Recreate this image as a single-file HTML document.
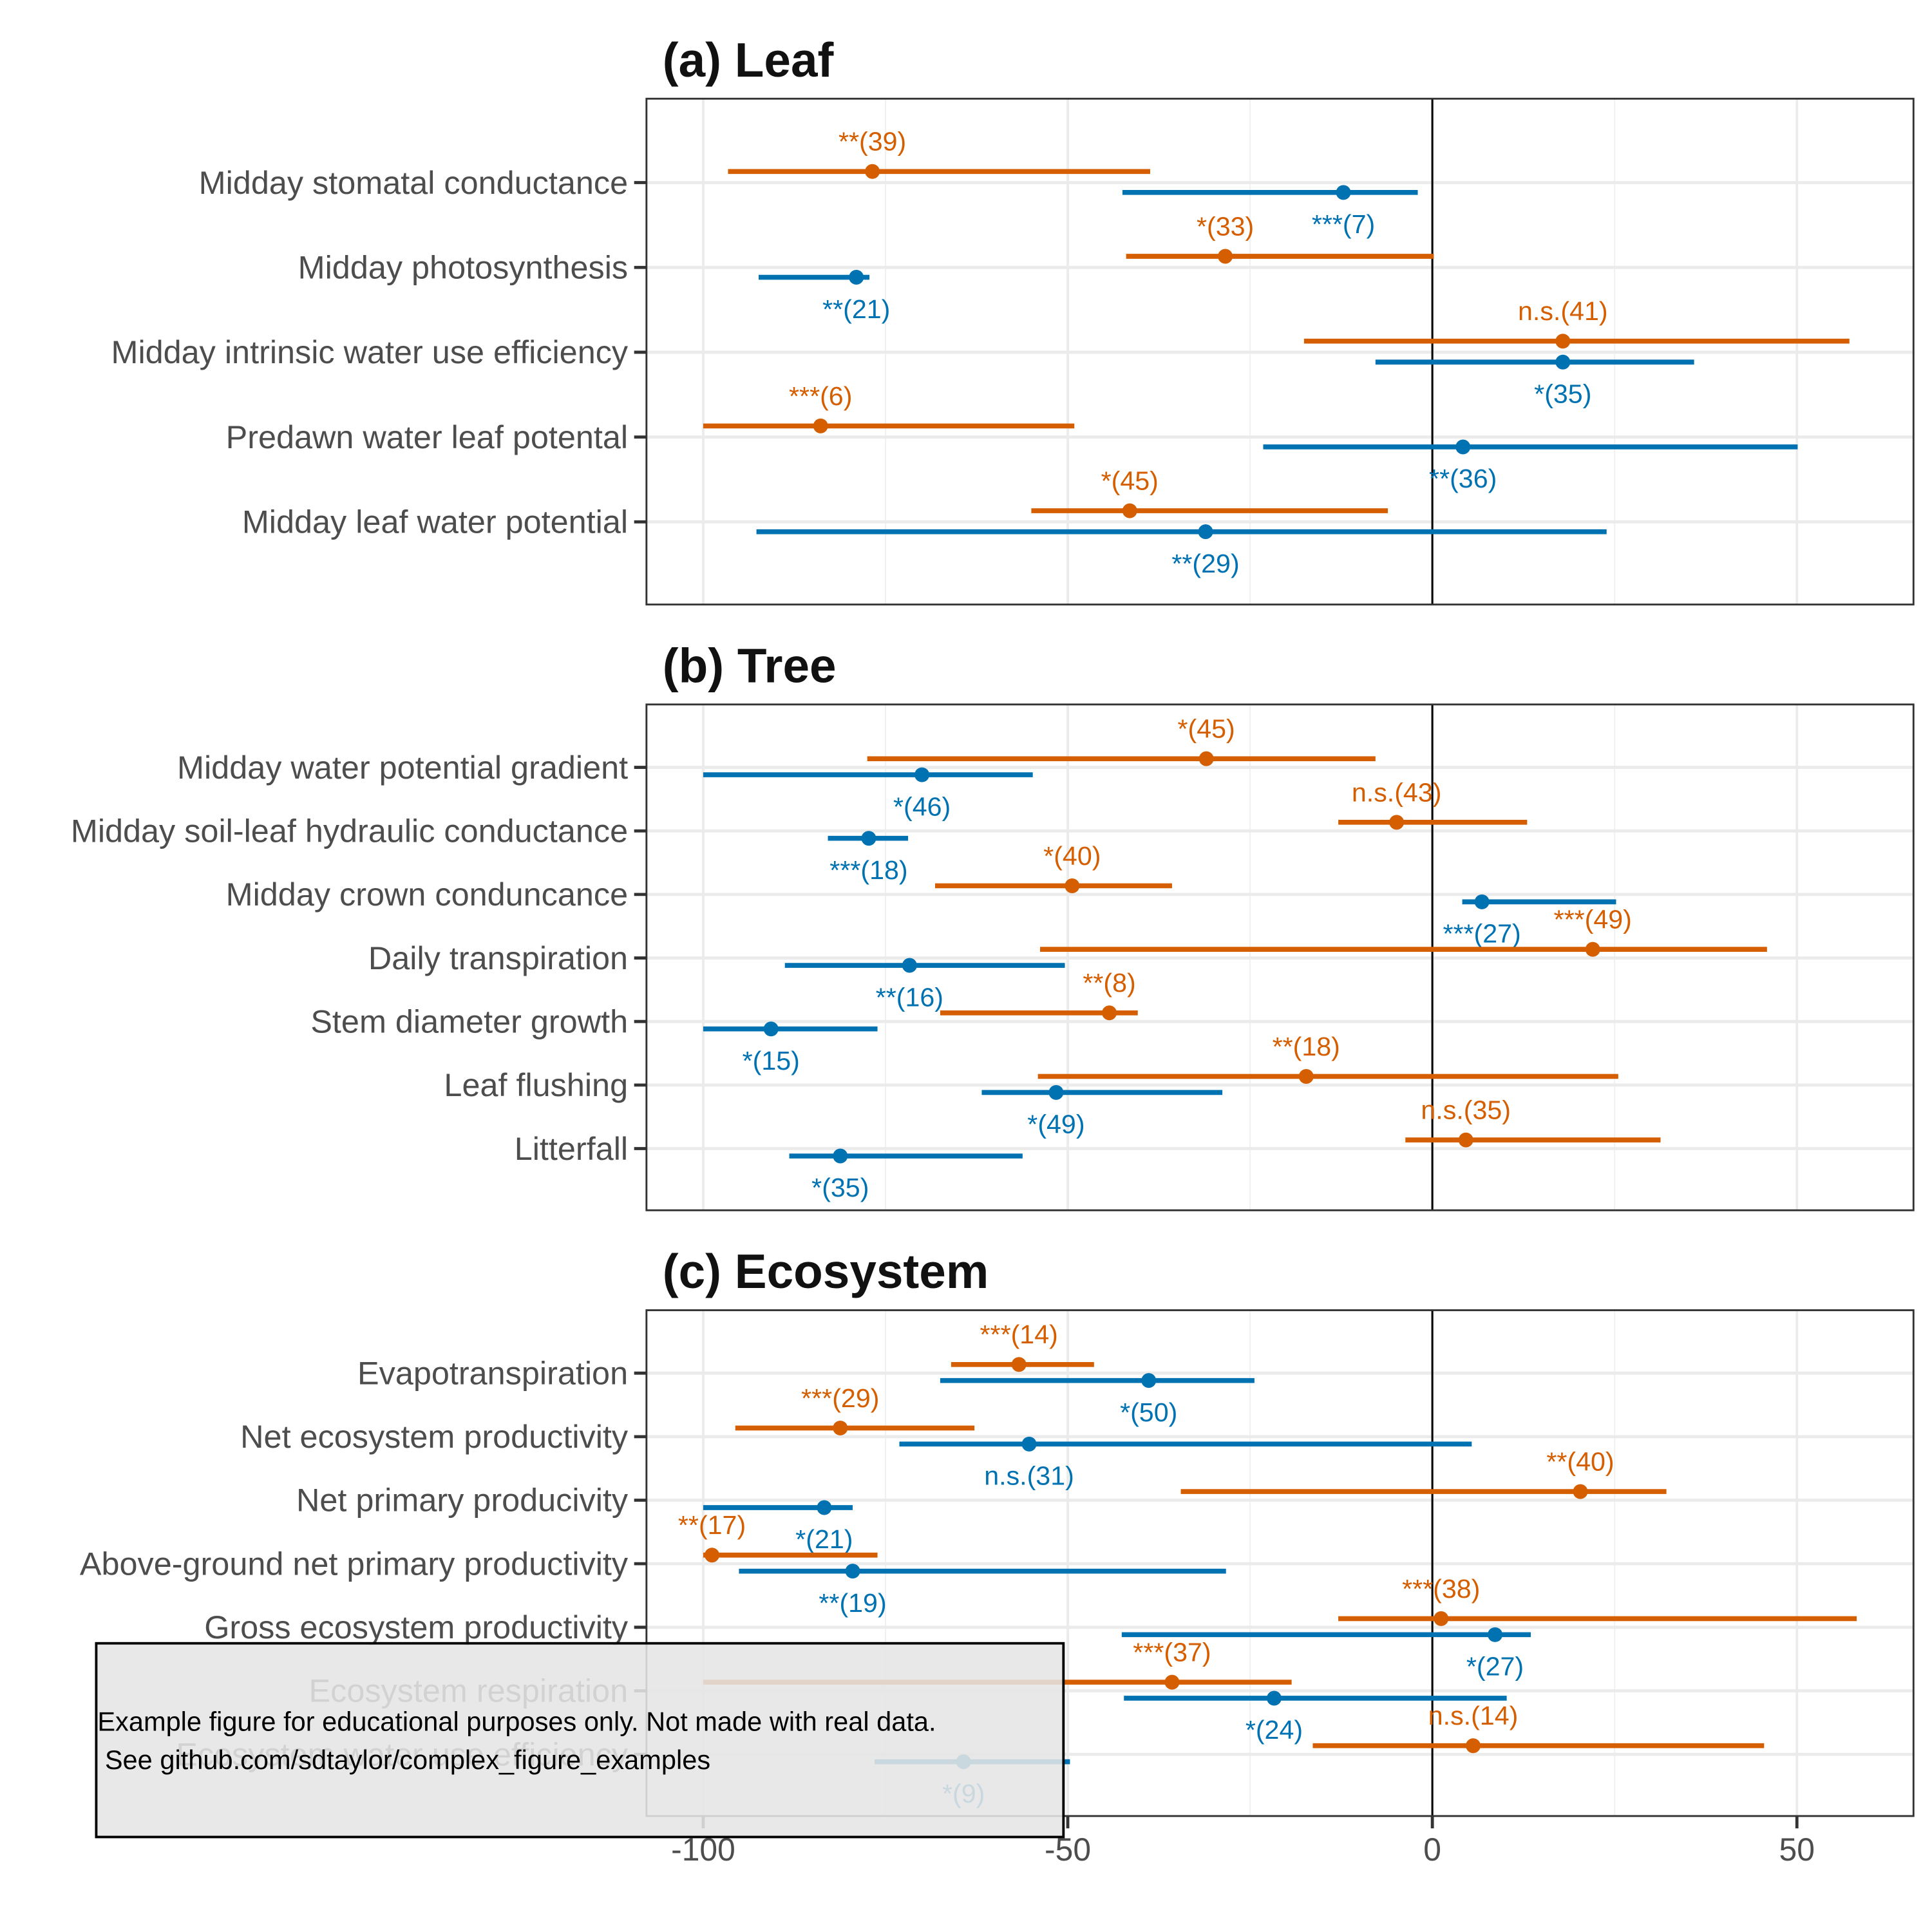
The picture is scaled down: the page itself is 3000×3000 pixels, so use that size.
<!DOCTYPE html>
<html><head><meta charset="utf-8"><style>
html,body{margin:0;padding:0;background:#fff;}
svg{display:block;font-family:"Liberation Sans",sans-serif;}
</style></head><body>
<svg id="chart" width="3000" height="3000" viewBox="0 0 1566 1566" xmlns="http://www.w3.org/2000/svg"></svg>
<script>
const xTicks = [-100, -50, 0, 50];
const minorTicks = [-75, -25, 25];
const panelTitles = ["(a) Leaf", "(b) Tree", "(c) Ecosystem"];
const catsA = ["Midday stomatal conductance","Midday photosynthesis","Midday intrinsic water use efficiency","Predawn water leaf potental","Midday leaf water potential"];
const orangeA = [-76.8,-28.4,17.9,-83.9,-41.5];
const orangeLoA = [-96.6,-42,-17.6,-100,-55];
const orangeHiA = [-38.7,0.2,57.2,-49.1,-6.1];
const orangeLabA = ["**(39)","*(33)","n.s.(41)","***(6)","*(45)"];
const blueA = [-12.2,-79,17.9,4.2,-31.1];
const blueLoA = [-42.5,-92.4,-7.8,-23.2,-92.7];
const blueHiA = [-2,-77.2,35.9,50.1,23.9];
const blueLabA = ["***(7)","**(21)","*(35)","**(36)","**(29)"];
const catsB = ["Midday water potential gradient","Midday soil-leaf hydraulic conductance","Midday crown conduncance","Daily transpiration","Stem diameter growth","Leaf flushing","Litterfall"];
const orangeB = [-31,-4.9,-49.4,22,-44.3,-17.3,4.6];
const orangeLoB = [-77.5,-12.9,-68.2,-53.8,-67.5,-54.1,-3.7];
const orangeHiB = [-7.8,13,-35.7,45.9,-40.4,25.5,31.3];
const orangeLabB = ["*(45)","n.s.(43)","*(40)","***(49)","**(8)","**(18)","n.s.(35)"];
const blueB = [-70,-77.3,6.8,-71.7,-90.7,-51.6,-81.2];
const blueLoB = [-100,-82.9,4.1,-88.8,-100,-61.8,-88.2];
const blueHiB = [-54.8,-71.9,25.2,-50.4,-76.1,-28.8,-56.2];
const blueLabB = ["*(46)","***(18)","***(27)","**(16)","*(15)","*(49)","*(35)"];
const catsC = ["Evapotranspiration","Net ecosystem productivity","Net primary producivity","Above-ground net primary productivity","Gross ecosystem productivity","Ecosystem respiration","Ecosystem water use efficiency"];
const orangeC = [-56.7,-81.2,20.3,-98.8,1.2,-35.7,5.6];
const orangeLoC = [-66,-95.6,-34.5,-100,-12.9,-100,-16.4];
const orangeHiC = [-46.4,-62.8,32.1,-76.1,58.2,-19.3,45.5];
const orangeLabC = ["***(14)","***(29)","**(40)","**(17)","***(38)","***(37)","n.s.(14)"];
const blueC = [-38.9,-55.3,-83.4,-79.5,8.6,-21.7,-64.3];
const blueLoC = [-67.5,-73.1,-100,-95.1,-42.6,-42.3,-76.5];
const blueHiC = [-24.4,5.4,-79.5,-28.3,13.5,10.2,-49.7];
const blueLabC = ["*(50)","n.s.(31)","*(21)","**(19)","*(27)","*(24)","*(9)"];

const NS="http://www.w3.org/2000/svg";
const svg=document.getElementById('chart');
const OR="#D55E00", BL="#0072B2";
const X0=524, X1=1551;
function xs(v){return 1161 + v*5.91;}
function mk(tag,attrs,parent){const e=document.createElementNS(NS,tag);for(const k in attrs)e.setAttribute(k,attrs[k]);(parent||svg).appendChild(e);return e;}

const panels=[
 {top:80,cats:catsA,o:orangeA,oL:orangeLoA,oH:orangeHiA,oT:orangeLabA,b:blueA,bL:blueLoA,bH:blueHiA,bT:blueLabA,first:148,step:68.75,oOff:-9,bOff:8},
 {top:571,cats:catsB,o:orangeB,oL:orangeLoB,oH:orangeHiB,oT:orangeLabB,b:blueB,bL:blueLoB,bH:blueHiB,bT:blueLabB,first:622,step:51.5,oOff:-7,bOff:6},
 {top:1062,cats:catsC,o:orangeC,oL:orangeLoC,oH:orangeHiC,oT:orangeLabC,b:blueC,bL:blueLoC,bH:blueHiC,bT:blueLabC,first:1113,step:51.5,oOff:-7,bOff:6}
];
panels.forEach((p,pi)=>{
  const g=mk('g',{});
  
  
  const t=mk('text',{x:537,y:p.top-18,'font-size':39,'font-weight':'bold',fill:'#111'},g);
  t.textContent=panelTitles[pi];
  
  
  const bot=p.top+410;
  mk('rect',{x:X0,y:p.top,width:X1-X0,height:410,fill:'#fff'},g);
  minorTicks.forEach(v=>mk('line',{x1:xs(v),x2:xs(v),y1:p.top,y2:bot,stroke:'#f0f0f0','stroke-width':1},g));
  xTicks.forEach(v=>mk('line',{x1:xs(v),x2:xs(v),y1:p.top,y2:bot,stroke:'#ebebeb','stroke-width':2},g));
  p.cats.forEach((c,i)=>{
    const y=p.first+i*p.step;
    mk('line',{x1:X0,x2:X1,y1:y,y2:y,stroke:'#ebebeb','stroke-width':2.5},g);
    mk('line',{x1:514,x2:X0,y1:y,y2:y,stroke:'#333','stroke-width':2.5},g);
    const lab=mk('text',{x:509,y:y+9,'font-size':26.3,'text-anchor':'end',fill:'#4d4d4d'},g);
    lab.textContent=c;
    
    
  });
  mk('line',{x1:xs(0),x2:xs(0),y1:p.top,y2:bot,stroke:'#000','stroke-width':1.6},g);
  p.cats.forEach((c,i)=>{
    const y=p.first+i*p.step;
    const yo=y+p.oOff, yb=y+p.bOff;
    const lo=mk('line',{x1:xs(p.oL[i]),x2:xs(p.oH[i]),y1:yo,y2:yo,stroke:OR,'stroke-width':4},g);
    
    
    const po=mk('circle',{cx:xs(p.o[i]),cy:yo,r:6,fill:OR},g);
    
    
    const to=mk('text',{x:xs(p.o[i]),y:yo-17,'font-size':21.5,'text-anchor':'middle',fill:OR},g);
    to.textContent=p.oT[i];
    
    
    const lb=mk('line',{x1:xs(p.bL[i]),x2:xs(p.bH[i]),y1:yb,y2:yb,stroke:BL,'stroke-width':4},g);
    
    
    const pb=mk('circle',{cx:xs(p.b[i]),cy:yb,r:6,fill:BL},g);
    
    
    const tb=mk('text',{x:xs(p.b[i]),y:yb+33,'font-size':21.5,'text-anchor':'middle',fill:BL},g);
    tb.textContent=p.bT[i];
    
    
  });
  mk('rect',{x:X0,y:p.top,width:X1-X0,height:410,fill:'none',stroke:'#333','stroke-width':1.5},g);
  if(pi===2){
    xTicks.forEach(v=>{
      mk('line',{x1:xs(v),x2:xs(v),y1:bot,y2:bot+10,stroke:'#333','stroke-width':2.5},g);
      const tl=mk('text',{x:xs(v),y:bot+36,'font-size':26,'text-anchor':'middle',fill:'#4d4d4d'},g);
      tl.textContent=v;
      
      
    });
  }
});
const ov=mk('g',{});


mk('rect',{x:78,y:1332,width:784,height:157,fill:'#e5e5e5','fill-opacity':0.88,stroke:'#000','stroke-width':2},ov);
const d1=mk('text',{x:79,y:1403,'font-size':21.7,fill:'#000'},ov);
d1.textContent='Example figure for educational purposes only. Not made with real data.';


const d2=mk('text',{x:85,y:1434,'font-size':21.7,fill:'#000'},ov);
d2.textContent='See github.com/sdtaylor/complex_figure_examples';


</script>
</body></html>
